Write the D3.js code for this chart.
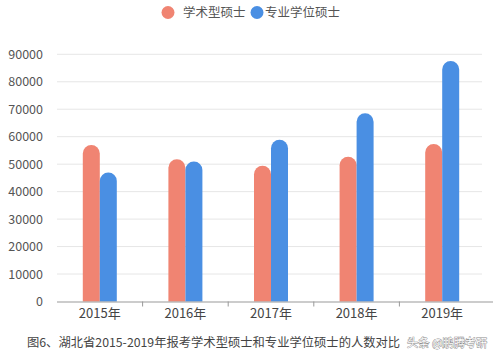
<!DOCTYPE html>
<html><head><meta charset="utf-8">
<script src="https://cdn.jsdelivr.net/npm/d3@7/dist/d3.min.js"></script>
<style>body{margin:0;background:#fff}svg{display:block}text{font-family:"Noto Sans CJK SC","Noto Sans",sans-serif}</style>
</head><body><svg id="c" width="499" height="357"></svg>
<script>
const categories = ["2015年","2016年","2017年","2018年","2019年"];
const academic = [57000, 51800, 49400, 52700, 57300];
const professional = [47000, 51000, 58900, 68500, 87600];
const seriesNames = ["学术型硕士","专业学位硕士"];
const yTicks = [0,10000,20000,30000,40000,50000,60000,70000,80000,90000];
const caption = "图6、湖北省2015-2019年报考学术型硕士和专业学位硕士的人数对比";
const watermark = "头条 @鹏腾考研";

const colors = ["#F08472","#4A8FE3"];
const svg = d3.select("#c");
const x = d3.scaleBand().domain(categories).range([57, 485]);
const y = d3.scaleLinear().domain([0, 90000]).range([301.5, 54.3]);

// gridlines
svg.append("g").selectAll("line").data(yTicks.slice(1)).join("line")
  .attr("x1", 57).attr("x2", 482).attr("y1", d => y(d)).attr("y2", d => y(d))
  .attr("stroke", "#e6e6e6").attr("stroke-width", 1);

// y labels
svg.append("g").selectAll("text").data(yTicks).join("text")
  .attr("x", 43).attr("y", d => y(d)).attr("dy", "0.36em")
  .attr("text-anchor", "end").attr("font-size", 12.5).attr("fill", "#555")
  .text(d => d);

const bw = 17;
function barPath(x0, v) {
  const top = y(v), bottom = y(0), r = bw / 2;
  return `M${x0},${bottom}V${top + r}A${r},${r} 0 0 1 ${x0 + bw},${top + r}V${bottom}Z`;
}
const series = [academic, professional];
series.forEach((vals, si) => {
  svg.append("g").selectAll("path").data(vals).join("path")
    .attr("d", (d, i) => barPath(x(categories[i]) + x.bandwidth() / 2 - bw + si * bw, d))
    .attr("fill", colors[si]);
});

// x axis
svg.append("line").attr("x1", 57).attr("x2", 493).attr("y1", y(0) + 0.5).attr("y2", y(0) + 0.5)
  .attr("stroke", "#999");
svg.append("g").selectAll("line").data(categories.slice(1)).join("line")
  .attr("x1", d => x(d)).attr("x2", d => x(d)).attr("y1", y(0)).attr("y2", y(0) + 5)
  .attr("stroke", "#999");
svg.append("g").selectAll("text").data(categories).join("text")
  .attr("x", d => x(d) + x.bandwidth() / 2).attr("y", 313).attr("dy", "0.36em")
  .attr("text-anchor", "middle").attr("font-size", 13).attr("fill", "#444")
  .text(d => d);

// legend
const leg = [{x: 168, tx: 183}, {x: 257, tx: 265}];
seriesNames.forEach((n, i) => {
  svg.append("circle").attr("cx", leg[i].x).attr("cy", 12.5).attr("r", 6.5).attr("fill", colors[i]);
  svg.append("text").attr("x", leg[i].tx).attr("y", 12.5).attr("dy", "0.36em")
    .attr("font-size", 12.5).attr("fill", "#555").text(n);
});

// caption
svg.append("text").attr("x", 27).attr("y", 343).attr("dy", "0.36em")
  .attr("font-size", 12.3).attr("fill", "#444").text(caption);
svg.append("text").attr("x", 407).attr("y", 343).attr("dy", "0.36em")
  .attr("font-size", 11.2).attr("fill", "#fff").attr("stroke", "#888").attr("stroke-width", 0.8)
  .attr("paint-order", "stroke").text(watermark);
</script></body></html>
